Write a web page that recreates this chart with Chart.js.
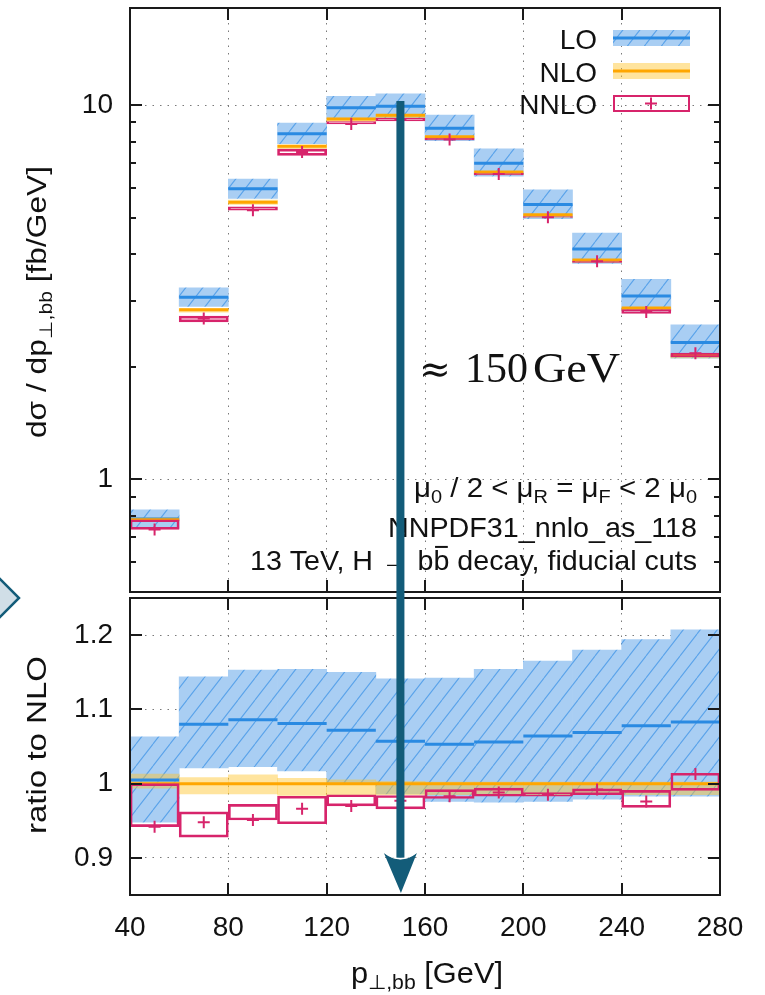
<!DOCTYPE html>
<html>
<head>
<meta charset="utf-8">
<script src="https://cdn.jsdelivr.net/npm/chart.js@4.4.0/dist/chart.umd.min.js"></script>
<style>
  html, body { margin: 0; padding: 0; background: #fff; }
  #wrap { position: relative; width: 765px; height: 995px; overflow: hidden; }
  canvas { position: absolute; left: 0; }
  #top { top: 0; }
  #bottom { top: 590px; }
  #overlay { top: 0; pointer-events: none; }
</style>
</head>
<body>
<div id="wrap">
  <canvas id="top" width="765" height="600"></canvas>
  <canvas id="bottom" width="765" height="405"></canvas>
  <canvas id="overlay" width="765" height="995"></canvas>
</div>
<script>
// bins in p_T,bb [GeV]
const binEdges = [40, 60, 80, 100, 120, 140, 160, 180, 200, 220, 240, 260, 280];
const binLabels = ['40-60', '60-80', '80-100', '100-120', '120-140', '140-160',
                   '160-180', '180-200', '200-220', '220-240', '240-260', '260-280'];

// upper panel, dsigma/dp [fb/GeV]
const loTop      = [0.784, 3.067, 5.984, 8.399, 9.852, 9.936, 8.677, 7.001, 5.426, 4.126, 3.094, 2.323];
const loTopLow   = [0.739, 2.900, 5.637, 7.902, 9.199, 9.268, 8.042, 6.464, 4.978, 3.779, 2.821, 2.109];
const loTopHigh  = [0.829, 3.249, 6.353, 8.967, 10.57, 10.73, 9.410, 7.651, 5.942, 4.555, 3.427, 2.589];
const nloTop     = [0.780, 2.840, 5.510, 7.770, 9.190, 9.400, 8.240, 6.630, 5.100, 3.860, 2.870, 2.145];
const nloTopLow  = [0.775, 2.800, 5.433, 7.646, 9.052, 9.259, 8.116, 6.531, 5.024, 3.802, 2.827, 2.113];
const nloTopHigh = [0.790, 2.863, 5.576, 7.824, 9.236, 9.428, 8.256, 6.643, 5.110, 3.868, 2.876, 2.149];
const nnloTop     = [0.735, 2.692, 5.240, 7.506, 8.914, 9.184, 8.100, 6.550, 5.024, 3.829, 2.801, 2.173];
const nnloTopLow  = [0.735, 2.636, 5.240, 7.350, 8.914, 9.080, 8.075, 6.517, 5.013, 3.802, 2.778, 2.126];
const nnloTopHigh = [0.780, 2.732, 5.356, 7.638, 9.052, 9.250, 8.174, 6.590, 5.039, 3.833, 2.844, 2.175];

// lower panel, ratio to NLO
const loRatio      = [1.005, 1.080, 1.086, 1.081, 1.072, 1.057, 1.053, 1.056, 1.064, 1.069, 1.078, 1.083];
const loRatioLow   = [0.948, 1.021, 1.023, 1.017, 1.001, 0.986, 0.976, 0.975, 0.976, 0.979, 0.983, 0.983];
const loRatioHigh  = [1.063, 1.144, 1.153, 1.154, 1.150, 1.141, 1.142, 1.154, 1.165, 1.180, 1.194, 1.207];
const nloRatio     = [1, 1, 1, 1, 1, 1, 1, 1, 1, 1, 1, 1];
const nloRatioLow  = [0.994, 0.986, 0.986, 0.984, 0.985, 0.985, 0.985, 0.985, 0.985, 0.985, 0.985, 0.985];
const nloRatioHigh = [1.013, 1.008, 1.012, 1.007, 1.005, 1.003, 1.002, 1.002, 1.002, 1.002, 1.002, 1.002];
const nnloRatio     = [0.942, 0.948, 0.951, 0.966, 0.970, 0.977, 0.983, 0.988, 0.985, 0.992, 0.976, 1.013];
const nnloRatioLow  = [0.942, 0.928, 0.951, 0.946, 0.970, 0.966, 0.980, 0.983, 0.983, 0.985, 0.968, 0.991];
const nnloRatioHigh = [1.000, 0.962, 0.972, 0.983, 0.985, 0.984, 0.992, 0.994, 0.988, 0.993, 0.991, 1.014];

// axis ticks
const xTicks = [40, 80, 120, 160, 200, 240, 280];
const yTopTicks = [1, 10];
const yTopMinor = [0.6, 0.7, 0.8, 0.9, 2, 3, 4, 5, 6, 7, 8, 9];
const yRatioTicks = [0.9, 1, 1.1, 1.2];

const FONT = '"Liberation Sans", Arial, sans-serif';
const SERIF = '"Liberation Serif", "DejaVu Serif", serif';
const pink = '#d7246b';
const blueLine = '#2a8ae2';
const orange = '#ffa600';
const nloFill = 'rgba(255,196,40,0.45)';
const teal = '#135c79';

function hatch(ctx) {
    const c = document.createElement('canvas');
    c.width = 17; c.height = 22;
    const g = c.getContext('2d');
    g.fillStyle = '#a9cef3';
    g.fillRect(0, 0, 17, 22);
    g.strokeStyle = '#5aa3ea';
    g.lineWidth = 1.1;
    g.beginPath();
    [-17, 0, 17].forEach(dx => { g.moveTo(dx, 22); g.lineTo(dx + 17, 0); });
    g.stroke();
    return ctx.createPattern(c, 'repeat');
}

function boxes(lo, hi) {
    return lo.map((v, i) => [v, hi[i]]);
}

// one flat segment per bin, broken between bins
function steps(vals) {
    const pts = [];
    vals.forEach((v, i) => {
        pts.push({x: binEdges[i], y: v}, {x: binEdges[i + 1], y: v}, {x: binEdges[i + 1], y: null});
    });
    return pts;
}

function centres(vals) {
    return vals.map((v, i) => ({x: (binEdges[i] + binEdges[i + 1]) / 2, y: v}));
}

// text with subscripts (1) and overline (2), optionally stretched to a given length
function drawRich(ctx, parts, x, y, align, size, target) {
    const sub = Math.round(size * 0.68);
    const widths = parts.map(p => {
        ctx.font = (p[1] === 1 ? sub : size) + 'px ' + FONT;
        return ctx.measureText(p[0]).width;
    });
    const total = widths.reduce((a, b) => a + b, 0);
    const k = target ? target / total : 1;
    const start = align === 'right' ? x - total * k : align === 'center' ? x - total * k / 2 : x;
    ctx.save();
    ctx.translate(start, y);
    ctx.scale(k, 1);
    ctx.textAlign = 'left';
    ctx.textBaseline = 'alphabetic';
    let cx = 0;
    parts.forEach((p, i) => {
        ctx.font = (p[1] === 1 ? sub : size) + 'px ' + FONT;
        ctx.fillText(p[0], cx, p[1] === 1 ? size * 0.22 : 0);
        if (p[1] === 2) ctx.fillRect(cx + widths[i] * 0.1, -size * 0.86, widths[i] * 0.8, 2);
        cx += widths[i];
    });
    ctx.restore();
}

const framePlugin = {
    id: 'frame',
    afterDatasetsDraw(chart, args, opts) {
        const {ctx, chartArea: a, scales} = chart;
        ctx.save();
        ctx.strokeStyle = '#1a1a1a';
        ctx.lineWidth = 2;
        ctx.beginPath();
        xTicks.slice(1, -1).forEach(v => {
            const px = Math.round(scales.x.getPixelForValue(v));
            ctx.moveTo(px, a.top); ctx.lineTo(px, a.top + 12);
            ctx.moveTo(px, a.bottom); ctx.lineTo(px, a.bottom - 12);
        });
        opts.major.forEach(v => {
            const py = Math.round(scales.y.getPixelForValue(v));
            ctx.moveTo(a.left, py); ctx.lineTo(a.left + 12, py);
            ctx.moveTo(a.right, py); ctx.lineTo(a.right - 12, py);
        });
        (opts.minor || []).forEach(v => {
            const py = Math.round(scales.y.getPixelForValue(v));
            ctx.moveTo(a.left, py); ctx.lineTo(a.left + 6, py);
            ctx.moveTo(a.right, py); ctx.lineTo(a.right - 6, py);
        });
        ctx.stroke();
        ctx.strokeRect(a.left, a.top, a.right - a.left, a.bottom - a.top);
        ctx.restore();
    }
};

const topText = {
    id: 'topText',
    afterDraw(chart) {
        const ctx = chart.ctx;
        ctx.save();
        ctx.fillStyle = '#111';
        // legend
        ctx.font = '28px ' + FONT;
        ctx.textAlign = 'right';
        ctx.textBaseline = 'alphabetic';
        ctx.fillText('LO', 597, 49);
        ctx.fillText('NLO', 597, 82);
        ctx.fillText('NNLO', 597, 114);
        ctx.fillStyle = chart.loPattern;
        ctx.fillRect(613, 30, 77, 16);
        ctx.fillStyle = nloFill;
        ctx.fillRect(613, 63, 77, 16);
        ctx.lineWidth = 3;
        ctx.strokeStyle = blueLine;
        ctx.beginPath(); ctx.moveTo(613, 38); ctx.lineTo(690, 38); ctx.stroke();
        ctx.strokeStyle = orange;
        ctx.beginPath(); ctx.moveTo(613, 71); ctx.lineTo(690, 71); ctx.stroke();
        ctx.lineWidth = 2;
        ctx.strokeStyle = pink;
        ctx.strokeRect(614, 96, 75, 15);
        ctx.beginPath();
        ctx.moveTo(645, 103.5); ctx.lineTo(657, 103.5);
        ctx.moveTo(651, 97.5); ctx.lineTo(651, 109.5);
        ctx.stroke();

        // info text
        ctx.fillStyle = '#111';
        drawRich(ctx, [['\u03bc', 0], ['0', 1], [' / 2 < \u03bc', 0], ['R', 1], [' = \u03bc', 0], ['F', 1],
                       [' < 2 \u03bc', 0], ['0', 1]], 697, 497, 'right', 28, 283);
        drawRich(ctx, [['NNPDF31_nnlo_as_118', 0]], 697, 537, 'right', 28, 309);
        drawRich(ctx, [['13 TeV, H \u2192 b', 0], ['b', 2], [' decay, fiducial cuts', 0]], 697, 570, 'right', 28, 447);

        // approx 150 GeV
        ctx.textAlign = 'left';
        ctx.font = '38px "DejaVu Serif", serif';
        ctx.fillText('\u2248', 419, 382);
        ctx.font = '42px ' + SERIF;
        ctx.fillText('150', 465, 382);
        ctx.save();
        ctx.translate(533, 382);
        ctx.scale(1.1, 1);
        ctx.fillText('GeV', 0, 0);
        ctx.restore();

        // y title
        ctx.translate(46, 302);
        ctx.rotate(-Math.PI / 2);
        drawRich(ctx, [['d\u03c3 / dp', 0], ['\u22a5,bb', 1], [' [fb/GeV]', 0]], 0, 0, 'center', 27, 272);
        ctx.restore();
    }
};

const bottomText = {
    id: 'bottomText',
    afterDraw(chart) {
        const ctx = chart.ctx;
        ctx.save();
        ctx.fillStyle = '#111';
        drawRich(ctx, [['p', 0], ['\u22a5,bb', 1], [' [GeV]', 0]], 427, 393, 'center', 29, 152);
        ctx.translate(46, 155);
        ctx.rotate(-Math.PI / 2);
        drawRich(ctx, [['ratio to NLO', 0]], 0, 0, 'center', 27, 178);
        ctx.restore();
    }
};

function makeDatasets(pattern, lo, loL, loH, nlo, nloL, nloH, nn, nnL, nnH) {
    const bar = {type: 'bar', xAxisID: 'xc', yAxisID: 'y', grouped: false,
                 barPercentage: 1, categoryPercentage: 1, borderSkipped: false};
    const seg = {type: 'line', xAxisID: 'x', yAxisID: 'y', pointRadius: 0, spanGaps: false, fill: false};
    return [
        Object.assign({label: 'LO band', data: boxes(loL, loH), backgroundColor: pattern, borderWidth: 0, order: 9}, bar),
        Object.assign({label: 'NLO band', data: boxes(nloL, nloH), backgroundColor: nloFill, borderWidth: 0, order: 8}, bar),
        Object.assign({label: 'LO', data: steps(lo), borderColor: blueLine, borderWidth: 3, order: 7}, seg),
        Object.assign({label: 'NLO', data: steps(nlo), borderColor: orange, borderWidth: 3, order: 6}, seg),
        Object.assign({label: 'NNLO band', data: boxes(nnL, nnH), backgroundColor: 'rgba(0,0,0,0)',
                       borderColor: pink, borderWidth: 2, order: 3}, bar),
        {type: 'line', label: 'NNLO', xAxisID: 'x', yAxisID: 'y', data: centres(nn), showLine: false,
         pointStyle: 'cross', pointRadius: 6, pointBorderWidth: 2, pointBorderColor: pink, borderColor: pink, order: 1}
    ];
}

function baseOptions() {
    return {
        responsive: false,
        animation: false,
        devicePixelRatio: 1,
        events: [],
        plugins: {legend: {display: false}, tooltip: {enabled: false}},
        layout: {padding: {left: 0, right: 45, top: 0, bottom: 0}}
    };
}

const gridStyle = {color: '#7a7a7a', lineWidth: 1, drawTicks: false};
const borderStyle = {display: false, dash: [1.5, 6]};

// keep the y axis at a fixed width and stop it from padding the chart area
function fixY(s) {
    s.width = 130;
    s.paddingTop = 0;
    s.paddingBottom = 0;
}

// upper panel
const topCtx = document.getElementById('top').getContext('2d');
const topPattern = hatch(topCtx);
const topOpts = baseOptions();
topOpts.layout.padding.top = 7;
topOpts.layout.padding.bottom = 2;
topOpts.plugins.frame = {major: yTopTicks, minor: yTopMinor};
topOpts.scales = {
    x: {type: 'linear', min: 40, max: 280, offset: false,
        afterBuildTicks: s => { s.ticks = xTicks.map(v => ({value: v})); },
        ticks: {display: false}, grid: Object.assign({offset: false}, gridStyle), border: borderStyle,
        afterFit: s => { s.height = 0; s.paddingLeft = 0; s.paddingRight = 0; }},
    xc: {type: 'category', display: false, offset: true},
    y: {type: 'logarithmic', min: 0.5, max: 18.2,
        afterBuildTicks: s => { s.ticks = yTopTicks.map(v => ({value: v})); },
        ticks: {callback: v => String(v), color: '#111', padding: 17, font: {family: FONT, size: 28}},
        grid: gridStyle, border: borderStyle,
        afterFit: fixY}
};
const topChart = new Chart(topCtx, {
    type: 'bar',
    data: {labels: binLabels,
           datasets: makeDatasets(topPattern, loTop, loTopLow, loTopHigh, nloTop, nloTopLow, nloTopHigh,
                                  nnloTop, nnloTopLow, nnloTopHigh)},
    options: topOpts,
    plugins: [framePlugin, topText]
});
topChart.loPattern = topPattern;
topChart.draw();

// ratio panel
const botCtx = document.getElementById('bottom').getContext('2d');
const botPattern = hatch(botCtx);
const botOpts = baseOptions();
botOpts.layout.padding.top = 8;
botOpts.plugins.frame = {major: yRatioTicks};
botOpts.scales = {
    x: {type: 'linear', min: 40, max: 280, offset: false,
        afterBuildTicks: s => { s.ticks = xTicks.map(v => ({value: v})); },
        ticks: {callback: v => String(v), color: '#111', padding: 16, maxRotation: 0, font: {family: FONT, size: 28}},
        grid: Object.assign({offset: false}, gridStyle), border: borderStyle,
        afterFit: s => { s.height = 100; s.paddingLeft = 0; s.paddingRight = 0; }},
    xc: {type: 'category', display: false, offset: true},
    y: {type: 'linear', min: 0.85, max: 1.25,
        afterBuildTicks: s => { s.ticks = yRatioTicks.map(v => ({value: v})); },
        ticks: {callback: v => String(Math.round(v * 10) / 10), color: '#111', padding: 17, font: {family: FONT, size: 28}},
        grid: gridStyle, border: borderStyle,
        afterFit: fixY}
};
const botChart = new Chart(botCtx, {
    type: 'bar',
    data: {labels: binLabels,
           datasets: makeDatasets(botPattern, loRatio, loRatioLow, loRatioHigh, nloRatio, nloRatioLow, nloRatioHigh,
                                  nnloRatio, nnloRatioLow, nnloRatioHigh)},
    options: botOpts,
    plugins: [framePlugin, bottomText]
});

// overlay: arrow at 150 GeV and the side marker
const ov = document.getElementById('overlay').getContext('2d');
const ax = topChart.scales.x.getPixelForValue(150);
ov.fillStyle = teal;
ov.fillRect(ax - 4, 101, 8, 858 - 101);
ov.beginPath();
ov.moveTo(ax - 16.5, 853);
ov.quadraticCurveTo(ax, 866, ax + 16.5, 853);
ov.lineTo(ax + 0.5, 893);
ov.closePath();
ov.fill();
ov.strokeStyle = 'rgba(255,255,255,0.8)';
ov.lineWidth = 1.5;
ov.beginPath();
ov.moveTo(ax - 16.5, 852);
ov.quadraticCurveTo(ax, 865, ax + 16.5, 852);
ov.stroke();

ov.beginPath();
ov.moveTo(-3, 576);
ov.lineTo(19, 598);
ov.lineTo(-3, 620);
ov.closePath();
ov.fillStyle = '#d0dee7';
ov.fill();
ov.strokeStyle = teal;
ov.lineWidth = 2.5;
ov.stroke();
</script>
</body>
</html>
